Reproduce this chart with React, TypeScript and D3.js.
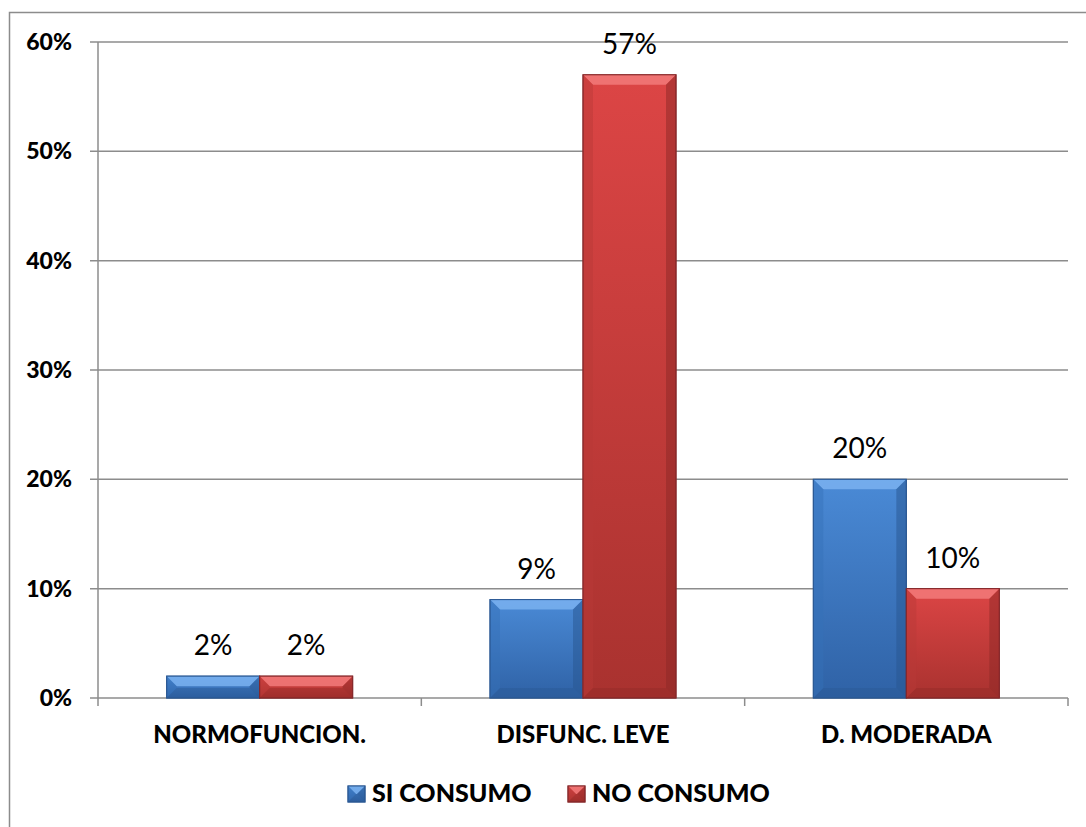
import React from "react";
import * as d3 from "d3";

const categories = ["NORMOFUNCION.", "DISFUNC. LEVE", "D. MODERADA"];
const seriesNames = ["SI CONSUMO", "NO CONSUMO"];
const siConsumo = [2, 9, 20];
const noConsumo = [2, 57, 10];
const yTicks = [0, 10, 20, 30, 40, 50, 60];

const W = 1086;
const H = 827;
const plot = { left: 98, right: 1068, top: 42, bottom: 698 };

const palettes = [
  { light: "#7ab2f0", top: "#4a8ad6", bottom: "#2f62a6", side: "#3670b8", dark: "#27558f", stroke: "#2a5893" },
  { light: "#f27a7a", top: "#dc4545", bottom: "#a9322f", side: "#b73a37", dark: "#8c2826", stroke: "#85282a" },
];

function Bar({ x, y, w, h, p, id }: any) {
  const b = Math.min(10, h / 2, w / 2);
  return (
    <g>
      <rect x={x} y={y} width={w} height={h} fill={`url(#body${id})`} stroke={p.stroke} strokeWidth={1} />
      <polygon points={`${x},${y} ${x + w},${y} ${x + w - b},${y + b} ${x + b},${y + b}`} fill={p.light} opacity={0.85} />
      <polygon points={`${x},${y} ${x + b},${y + b} ${x + b},${y + h - b} ${x},${y + h}`} fill={p.side} opacity={0.45} />
      <polygon points={`${x + w},${y} ${x + w - b},${y + b} ${x + w - b},${y + h - b} ${x + w},${y + h}`} fill={p.dark} opacity={0.5} />
      <polygon points={`${x},${y + h} ${x + b},${y + h - b} ${x + w - b},${y + h - b} ${x + w},${y + h}`} fill={p.dark} opacity={0.35} />
      <rect x={x} y={y} width={w} height={h} fill="none" stroke={p.stroke} strokeWidth={1} />
    </g>
  );
}

export default function App() {
  const x0 = d3.scaleBand<string>().domain(categories).range([plot.left, plot.right]).paddingInner(0).paddingOuter(0);
  const groupW = 186;
  const x1 = d3
    .scaleBand<number>()
    .domain([0, 1])
    .range([0, groupW])
    .padding(0);
  const y = d3.scaleLinear().domain([0, 60]).range([plot.bottom, plot.top]);
  const series = [siConsumo, noConsumo];
  const font = "Lato, 'Open Sans', sans-serif";

  return (
    <svg width={W} height={H} style={{ position: "absolute", left: 0, top: 0, background: "#fff" }}>
      <defs>
        {palettes.map((p, i) => (
          <linearGradient key={i} id={`body${i}`} x1="0" y1="0" x2="0" y2="1">
            <stop offset="0%" stopColor={p.top} />
            <stop offset="100%" stopColor={p.bottom} />
          </linearGradient>
        ))}
      </defs>
      <rect x={9.5} y={12.5} width={1200} height={1000} fill="none" stroke="#8c8c8c" strokeWidth={1.5} />
      {yTicks.map((t) => (
        <g key={t}>
          <line x1={plot.left - 8} x2={plot.right} y1={y(t)} y2={y(t)} stroke="#8c8c8c" strokeWidth={1.5} />
          <text x={72} y={y(t) + 8} textAnchor="end" fontFamily={font} fontWeight={900} fontSize={23} fill="#000">
            {t}%
          </text>
        </g>
      ))}
      <line x1={plot.left} x2={plot.left} y1={plot.top} y2={plot.bottom + 8} stroke="#8c8c8c" strokeWidth={1.5} />
      {categories.map((c, i) => {
        const xe = (x0(c) as number) + x0.bandwidth();
        return <line key={c} x1={xe} x2={xe} y1={plot.bottom} y2={plot.bottom + 8} stroke="#8c8c8c" strokeWidth={1.5} />;
      })}
      {categories.map((c, i) => {
        const gx = (x0(c) as number) + (x0.bandwidth() - groupW) / 2;
        return (
          <g key={c}>
            {series.map((s, j) => {
              const bx = gx + (x1(j) as number);
              const by = y(s[i]);
              const bh = plot.bottom - by;
              return (
                <g key={j}>
                  <Bar x={bx} y={by} w={x1.bandwidth()} h={bh} p={palettes[j]} id={j} />
                  <text x={bx + x1.bandwidth() / 2} y={by - 21} textAnchor="middle" fontFamily={font} fontSize={28} fill="#000">
                    {s[i]}%
                  </text>
                </g>
              );
            })}
            <text x={(x0(c) as number) + x0.bandwidth() / 2} y={743} textAnchor="middle" fontFamily={font} fontWeight={900} fontSize={24} fill="#000">
              {c}
            </text>
          </g>
        );
      })}
      {seriesNames.map((n, j) => {
        const lx = [348, 568][j];
        return (
          <g key={n}>
            <Bar x={lx} y={786} w={17} h={16} p={palettes[j]} id={j} />
            <text x={lx + 24} y={802} fontFamily={font} fontWeight={900} fontSize={25} fill="#000">
              {n}
            </text>
          </g>
        );
      })}
    </svg>
  );
}
